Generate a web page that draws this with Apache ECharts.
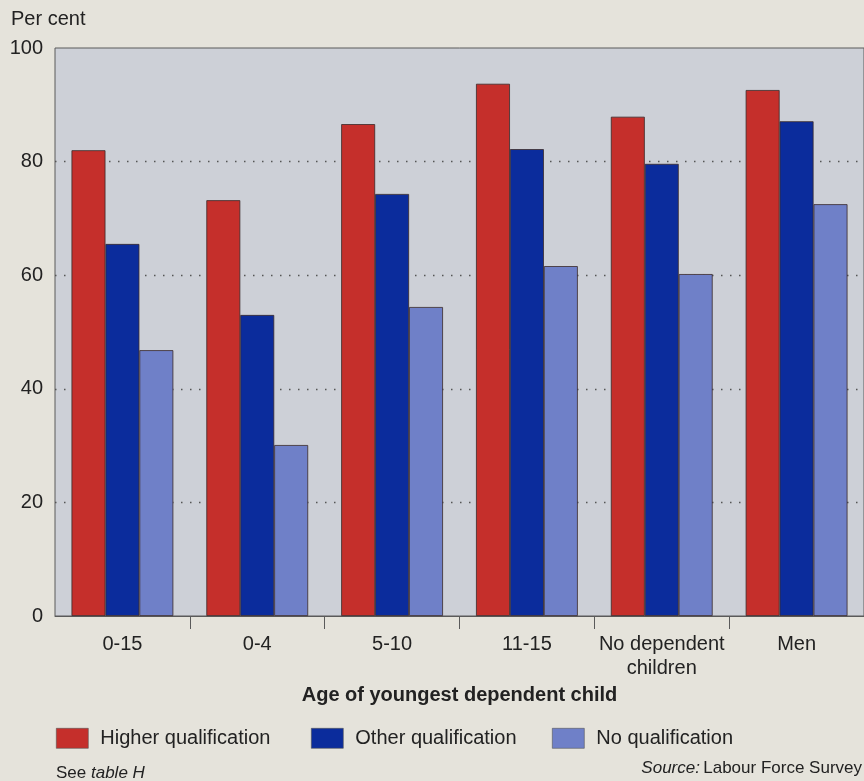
<!DOCTYPE html>
<html>
<head>
<meta charset="utf-8">
<script src="https://cdn.jsdelivr.net/npm/echarts@6/dist/echarts.min.js"></script>
<style>
  html, body { margin: 0; padding: 0; background: #e5e3db; }
  #chart { width: 864px; height: 781px; }
</style>
</head>
<body>
<div id="chart"></div>
<script>
// Employment rates by qualification, grouped by age of youngest dependent child
const categories = ['0-15', '0-4', '5-10', '11-15', 'No dependent\nchildren', 'Men'];
const higherQualification = [82.0, 73.2, 86.6, 93.7, 87.9, 92.6];
const otherQualification  = [65.5, 53.0, 74.3, 82.2, 79.6, 87.1];
const noQualification     = [46.8, 30.1, 54.4, 61.6, 60.2, 72.5];
const yTicks = [0, 20, 40, 60, 80, 100];

const seriesNames = ['Higher qualification', 'Other qualification', 'No qualification'];
const seriesColors = ['#c52f2b', '#0b2c9c', '#6f80c8'];
const seriesData = [higherQualification, otherQualification, noQualification];

const font = '"Liberation Sans", Arial, Helvetica, sans-serif';
const chart = echarts.init(document.getElementById('chart'));

const legendPos = [56, 311, 552];
// dotted guides only between the outer frame lines
const gridColors = yTicks.map((v, i) => (i === 0 || i === yTicks.length - 1) ? 'rgba(0,0,0,0)' : '#555');

chart.setOption({
  backgroundColor: '#e5e3db',
  animation: false,
  textStyle: { fontFamily: font, color: '#222' },
  title: {
    text: 'Per cent',
    left: 11, top: 9, padding: 0,
    textStyle: { fontFamily: font, fontSize: 20, fontWeight: 'normal', color: '#222' }
  },
  grid: {
    left: 55, right: 0, top: 48, bottom: 165,
    show: true,
    backgroundColor: '#cdd0d7',
    borderColor: '#5a5a5a',
    borderWidth: 1
  },
  legend: seriesNames.map((name, i) => ({
    data: [name],
    left: legendPos[i], top: 728,
    padding: 0,
    icon: 'rect',
    itemWidth: 32, itemHeight: 20,
    textStyle: { fontFamily: font, fontSize: 20, color: '#222', padding: [0, 0, 0, 7] },
    itemStyle: { borderColor: '#555', borderWidth: 0.6 }
  })),
  xAxis: {
    type: 'category',
    data: categories,
    boundaryGap: true,
    name: 'Age of youngest dependent child',
    nameLocation: 'middle',
    nameGap: 69,
    nameTextStyle: { fontFamily: font, fontSize: 20, fontWeight: 'bold', color: '#222' },
    axisLine: { show: true, lineStyle: { color: '#5a5a5a', width: 1 } },
    axisTick: {
      show: true, length: 13,
      interval: function (index) { return index > 0; },
      lineStyle: { color: '#5a5a5a', width: 1 }
    },
    axisLabel: {
      fontFamily: font, fontSize: 20, color: '#222', margin: 16, lineHeight: 24,
      interval: 0
    }
  },
  yAxis: {
    type: 'value',
    min: yTicks[0], max: yTicks[yTicks.length - 1], interval: 20,
    axisLine: { show: false },
    axisTick: { show: false },
    axisLabel: { fontFamily: font, fontSize: 20, color: '#222', margin: 12 },
    splitLine: {
      show: true,
      lineStyle: { color: gridColors, width: 1.4, type: [1.5, 7.5] }
    }
  },
  series: seriesNames.map((name, i) => ({
    name: name,
    type: 'bar',
    data: seriesData[i],
    barGap: '0%',
    barCategoryGap: '24.5%',
    itemStyle: { color: seriesColors[i], borderColor: '#3a2a2a', borderWidth: 0.8 }
  })),
  graphic: [
    {
      type: 'text', left: 56, top: 765,
      style: {
        text: '{n|See }{i|table H}',
        rich: {
          n: { fontFamily: font, fontSize: 17, fill: '#222' },
          i: { fontFamily: font, fontSize: 17, fontStyle: 'italic', fill: '#222' }
        }
      }
    },
    {
      type: 'text', right: 2, top: 760,
      style: {
        text: '{i|Source:} {n|Labour Force Survey}',
        rich: {
          n: { fontFamily: font, fontSize: 17, fill: '#222' },
          i: { fontFamily: font, fontSize: 17, fontStyle: 'italic', fill: '#222' }
        }
      }
    }
  ]
});
</script>
</body>
</html>
